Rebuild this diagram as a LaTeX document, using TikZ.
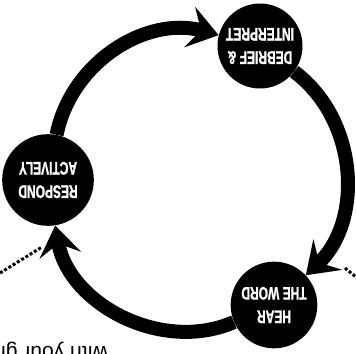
\documentclass[tikz,border=0pt]{standalone}
\usepackage{fontspec}
\usetikzlibrary{arrows.meta}
\newfontfamily\stagefont[FakeStretch=0.66,FakeBold=1.2,UprightFont={* Bold}]{Liberation Sans}
\newfontfamily\notefont{Liberation Sans}

\begin{document}
\begin{tikzpicture}[x=0.3mm,y=0.3mm,inner sep=0mm,
  stage/.style={circle,fill=black,text=white,minimum size=26mm,align=center,rotate=180,font=\stagefont\fontsize{15.5}{20}\selectfont},
  ringarrow/.style={line width=4.2mm,-{Stealth[length=9mm,width=12.5mm,inset=3.5mm]}},
  dotline/.style={line width=0.9mm,dash pattern=on 0.9mm off 0.6mm}]
\useasboundingbox (0,0) rectangle (356,353);
\clip (0,0) rectangle (356,353);
\node[stage,minimum size=25.5mm] (debrief) at (260,307) {DEBRIEF \&\\INTERPRET};
\node[stage,minimum size=27.5mm] (respond) at (48,173) {RESPOND\\ACTIVELY};
\node[stage] (hear) at (274,48) {HEAR\\THE WORD};
\path (respond) edge[ringarrow,bend left=47] (debrief);
\path (debrief) edge[ringarrow,bend left=50] (hear);
\path (hear) edge[ringarrow,bend left=52] (respond);
\coordinate (lefta) at (0,80);
\coordinate (leftb) at (42,106);
\coordinate (righta) at (345,85);
\coordinate (rightb) at (362,71);
\draw[dotline] (lefta) -- (leftb);
\draw[dotline] (righta) -- (rightb);
\node[rotate=180,anchor=base west,font=\notefont\fontsize{18}{20}\selectfont] (note) at (108,7) {with your gr};
\end{tikzpicture}
\end{document}
